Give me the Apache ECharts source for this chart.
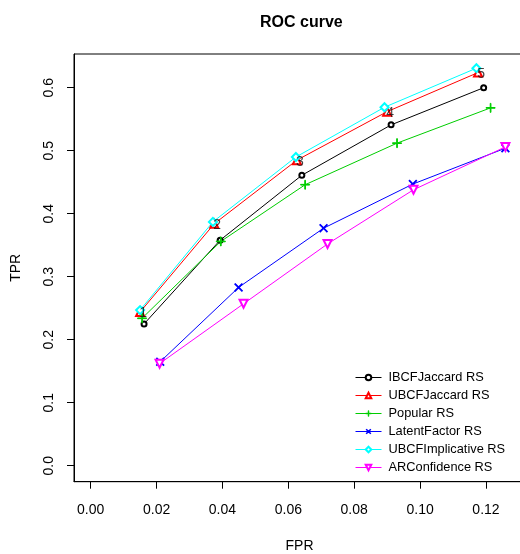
<!DOCTYPE html>
<html><head><meta charset="utf-8">
<script src="https://cdn.jsdelivr.net/npm/echarts@6/dist/echarts.min.js"></script>
<style>html,body{margin:0;padding:0;background:#fff}#c{width:520px;height:554px}</style>
</head><body><div id="c"></div>
<script>
const seriesNames = ['IBCFJaccard RS', 'UBCFJaccard RS', 'Popular RS', 'LatentFactor RS', 'UBCFImplicative RS', 'ARConfidence RS'];
const ibcfX = [0.0162, 0.0393, 0.0641, 0.0912, 0.1193];
const ibcfY = [0.225, 0.358, 0.461, 0.541, 0.600];
const ubcfX = [0.0150, 0.0375, 0.0626, 0.0900, 0.1176];
const ubcfY = [0.244, 0.384, 0.485, 0.562, 0.624];
const popX = [0.0156, 0.0395, 0.0651, 0.0930, 0.1214];
const popY = [0.234, 0.356, 0.446, 0.512, 0.568];
const lfX = [0.0211, 0.0449, 0.0707, 0.0978, 0.1259];
const lfY = [0.165, 0.283, 0.377, 0.447, 0.504];
const implX = [0.0150, 0.0371, 0.0623, 0.0892, 0.1171];
const implY = [0.247, 0.387, 0.490, 0.569, 0.631];
const arX = [0.0209, 0.0464, 0.0719, 0.0980, 0.1259];
const arY = [0.162, 0.257, 0.352, 0.438, 0.506];
const pointLabels = ['1', '2', '3', '4', '5'];
const xTicks = [0, 0.02, 0.04, 0.06, 0.08, 0.10, 0.12];
const yTicks = [0, 0.1, 0.2, 0.3, 0.4, 0.5, 0.6];

const FONT = '"Liberation Sans", Arial, sans-serif';
const pair = (xs, ys) => xs.map((x, i) => [x, ys[i]]);
const plusPath = 'path://M4.6,0H5.4V4.6H10V5.4H5.4V10H4.6V5.4H0V4.6H4.6Z';

function mk(name, xs, ys, color, symbol, size, rot) {
  return {
    name: name, type: 'line', data: pair(xs, ys),
    symbol: symbol, symbolSize: size, symbolRotate: rot || 0,
    showAllSymbol: true,
    lineStyle: { color: color, width: 1 },
    itemStyle: { color: color, borderColor: color, borderWidth: 1 },
    emphasis: { disabled: true },
    animation: false
  };
}

const chart = echarts.init(document.getElementById('c'), null, { renderer: 'canvas' });
chart.setOption({
  animation: false,
  backgroundColor: '#fff',
  textStyle: { fontFamily: FONT },
  title: {
    text: 'ROC curve', left: 255, top: 10,
    textStyle: { fontFamily: FONT, fontSize: 16, fontWeight: 'bold', color: '#000' }
  },
  grid: { left: 74, right: -5, top: 54, bottom: 72.3, containLabel: false, outerBoundsMode: 'none',
    show: true, borderColor: '#000', borderWidth: 1, backgroundColor: 'transparent' },
  xAxis: {
    type: 'value', min: -0.00507, max: 0.13185,
    name: 'FPR', nameLocation: 'middle', nameGap: 57,
    nameTextStyle: { fontFamily: FONT, fontSize: 14, color: '#000' },
    axisLine: { show: true, onZero: false, lineStyle: { color: '#000', width: 1 } },
    axisTick: { show: true, length: 7, customValues: xTicks, lineStyle: { color: '#000' } },
    axisLabel: { customValues: xTicks, margin: 21, fontFamily: FONT, fontSize: 14, color: '#000',
      formatter: v => v.toFixed(2) },
    splitLine: { show: false }
  },
  yAxis: {
    type: 'value', min: -0.0254, max: 0.6535,
    name: 'TPR', nameLocation: 'middle', nameGap: 51, nameRotate: 90,
    nameTextStyle: { fontFamily: FONT, fontSize: 14, color: '#000' },
    axisLine: { show: true, onZero: false, lineStyle: { color: '#000', width: 1 } },
    axisTick: { show: true, length: 7, customValues: yTicks, lineStyle: { color: '#000' } },
    axisLabel: { customValues: yTicks, margin: 18, rotate: 90, fontFamily: FONT, fontSize: 14, color: '#000',
      formatter: v => v.toFixed(1) },
    splitLine: { show: false }
  },
  legend: {
    orient: 'vertical', left: 350, top: 366,
    itemWidth: 26, itemHeight: 7, itemGap: 5,
    lineStyle: { width: 1 },
    itemStyle: { borderWidth: 1 },
    textStyle: { fontFamily: FONT, fontSize: 12.8, lineHeight: 13, color: '#000', padding: [0, 0, 0, 2] },
    data: seriesNames, selectedMode: false
  },
  series: [
    mk(seriesNames[0], ibcfX, ibcfY, '#000000', 'emptyCircle', 5),
    mk(seriesNames[1], ubcfX, ubcfY, '#FF0000', 'emptyTriangle', 8),
    mk(seriesNames[2], popX, popY, '#00CD00', plusPath, 9),
    mk(seriesNames[3], lfX, lfY, '#0000FF', plusPath, 10, 45),
    mk(seriesNames[4], implX, implY, '#00FFFF', 'emptyDiamond', 8),
    mk(seriesNames[5], arX, arY, '#FF00FF', 'emptyTriangle', 8, 180),
    {
      name: 'labels', type: 'scatter', data: pair(ubcfX, ubcfY), symbolSize: 1,
      itemStyle: { color: 'rgba(0,0,0,0)' }, z: 10, silent: true,
      label: { show: true, position: 'inside', offset: [3, 1.5], fontFamily: FONT, fontSize: 14, color: '#111',
        formatter: p => pointLabels[p.dataIndex] }
    }
  ]
});
</script></body></html>
